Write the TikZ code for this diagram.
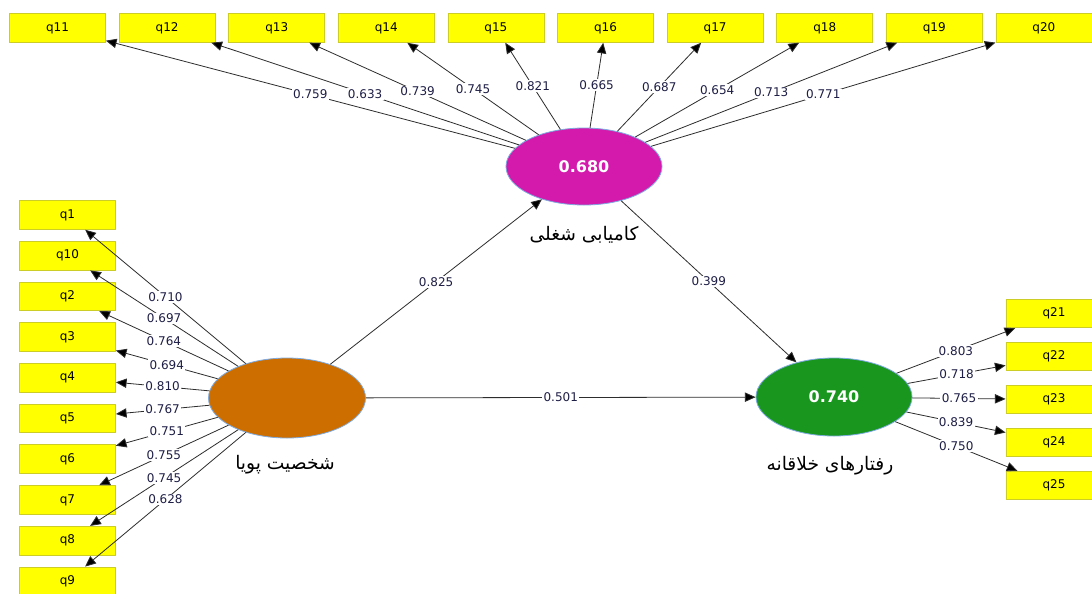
\documentclass[tikz,border=0pt]{standalone}
\usepackage{fontspec}
\setmainfont{DejaVu Sans}
\newfontfamily\arabicfont[Script=Arabic]{DejaVu Sans}
\TeXXeTstate=1
\usetikzlibrary{shapes.geometric,arrows.meta}
\definecolor{itemyellow}{RGB}{255,255,0}
\definecolor{itemborder}{RGB}{205,205,40}
\definecolor{lvmagenta}{RGB}{212,26,172}
\definecolor{lvbrown}{RGB}{204,110,0}
\definecolor{lvgreen}{RGB}{24,150,30}
\definecolor{lvborder}{RGB}{125,170,225}
\definecolor{loadtext}{RGB}{30,30,70}
\definecolor{pathgray}{RGB}{45,45,45}
\tikzset{
  item/.style={draw=itemborder,fill=itemyellow,minimum width=72pt,minimum height=21.5pt,
    inner sep=0pt,font=\fontsize{9}{10}\selectfont},
  latent/.style={ellipse,draw=lvborder,inner sep=0pt,text=white,
    font=\bfseries\fontsize{12}{14}\selectfont},
  load/.style={fill=white,inner sep=1pt,text=loadtext,font=\fontsize{9}{10}\selectfont},
  lvname/.style={font=\arabicfont\fontsize{14}{16}\selectfont},
  >={Triangle[length=8pt,width=7pt,fill=black]}
}
\begin{document}
\begin{tikzpicture}[x=0.75pt,y=-0.75pt,pathgray,line width=0.6pt]
      \clip(0,0) rectangle (1092,593);
      \fill[white] (0,0) rectangle (1092,593);
      % latent variables
      \node[latent,fill=lvmagenta,minimum width=117pt,minimum height=57.75pt] (job) at (584,166.5) {0.680};
      \node[latent,fill=lvbrown,minimum width=117.75pt,minimum height=60pt] (pers) at (287,398) {};
      \node[latent,fill=lvgreen,minimum width=117pt,minimum height=58.5pt] (creat) at (834,397) {0.740};
      \node[lvname,text=black] (jobname) at (584,235) {\beginR کامیابی شغلی\endR};
      \node[lvname,text=black] (persname) at (285,465) {\beginR شخصیت پویا\endR};
      \node[lvname,text=black] (creatname) at (830,466) {\beginR رفتارهای خلاقانه\endR};
      % indicators
      \foreach \i in {11,...,20}
        \node[item,text=black] (q\i) at ({57.5+109.6*(\i-11)},28) {q\i};
      \foreach \i [count=\k from 0] in {1,10,2,3,4,5,6,7,8,9}
        \node[item,text=black] (q\i) at (67.5,{215+40.7*\k}) {q\i};
      \foreach \i [count=\k from 0] in {21,...,25}
        \node[item,text=black] (q\i) at (1054,{313.5+43*\k}) {q\i};
      % loadings
      \foreach \i/\v in {11/0.759,12/0.633,13/0.739,14/0.745,15/0.821,
                        16/0.665,17/0.687,18/0.654,19/0.713,20/0.771}
        \draw[->] (job) -- (q\i) node[load,midway]{\v};
      \foreach \i/\v in {1/0.710,10/0.697,2/0.764,3/0.694,4/0.810,
                        5/0.767,6/0.751,7/0.755,8/0.745,9/0.628}
        \draw[->] (pers) -- (q\i) node[load,midway]{\v};
      \foreach \i/\v in {21/0.803,22/0.718,23/0.765,24/0.839,25/0.750}
        \draw[->] (creat) -- (q\i) node[load,midway]{\v};
      % paths
      \draw[->] (pers) -- (job) node[load,midway]{0.825};
      \draw[->] (pers) -- (creat) node[load,midway]{0.501};
      \draw[->] (job) -- (creat) node[load,midway]{0.399};
    \end{tikzpicture}
\end{document}
